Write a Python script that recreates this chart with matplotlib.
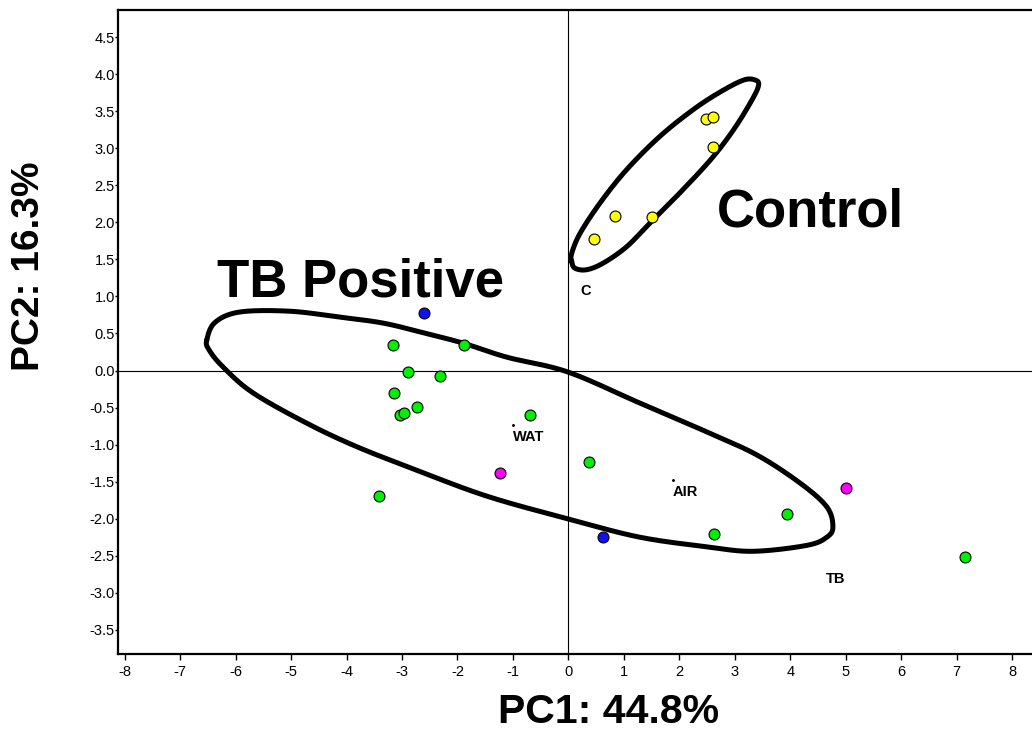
import numpy as np
import matplotlib
matplotlib.use("Agg")
import matplotlib.pyplot as plt

plt.rcParams['font.family'] = ['Liberation Sans', 'DejaVu Sans']
plt.rcParams['axes.unicode_minus'] = False

# ---- data (PC1, PC2) ----
yellow_x = [0.47, 0.85, 1.50, 2.48, 2.61, 2.60]
yellow_y = [1.77, 2.09, 2.07, 3.40, 3.42, 3.01]

green_x = [-3.16, -1.89, -2.90, -2.31, -3.14, -3.04, -2.97, -2.73, -0.70, -3.41, 0.37, 2.63, 3.94, 7.15]
green_y = [0.34, 0.35, -0.02, -0.07, -0.31, -0.60, -0.58, -0.49, -0.60, -1.70, -1.24, -2.20, -1.94, -2.52]

magenta_x = [-1.24, 5.00]
magenta_y = [-1.39, -1.58]

blue_x = [-2.61, 0.63]
blue_y = [0.77, -2.25]

# group labels (left, baseline)
group_labels = ["C", "WAT", "AIR", "TB"]
group_label_x = [0.21, -1.00, 1.88, 4.64]
group_label_y = [1.02, -0.95, -1.70, -2.87]
centroid_x = [-1.00, 1.88]
centroid_y = [-0.73, -1.48]

# hand-drawn enclosure outlines (data units)
tb_outline_x = [-6.52, -6.37, -5.92, -5.02, -4.12, -3.34, -2.62, -1.90, -1.11, -0.01, 1.29, 2.50,
                3.40, 4.18, 4.66, 4.77, 4.66, 4.30, 3.33, 2.50, 1.29, 0.08, -1.41, -2.62, -3.81,
                -4.72, -5.69, -6.23, -6.48]
tb_outline_y = [0.41, 0.65, 0.79, 0.80, 0.72, 0.64, 0.51, 0.37, 0.18, -0.02, -0.44, -0.83,
                -1.14, -1.52, -1.84, -2.11, -2.25, -2.36, -2.44, -2.38, -2.25, -2.02, -1.71, -1.38, -1.03,
                -0.71, -0.30, 0.05, 0.28]
ctrl_outline_x = [0.06, 0.12, 0.33, 0.63, 1.05, 1.47, 1.95, 2.56, 2.98, 3.31, 3.43, 3.37, 3.16,
                  2.74, 2.25, 1.65, 1.05, 0.57, 0.21, 0.06]
ctrl_outline_y = [1.47, 1.38, 1.36, 1.45, 1.67, 1.99, 2.35, 2.84, 3.25, 3.65, 3.85, 3.92, 3.92,
                  3.76, 3.52, 3.16, 2.71, 2.26, 1.85, 1.58]

group_titles = ["TB Positive", "Control"]
group_title_x = [-3.75, 4.37]
group_title_y = [1.005, 1.94]

x_ticks = list(range(-8, 9))
y_ticks = [-3.5, -3.0, -2.5, -2.0, -1.5, -1.0, -0.5, 0.0, 0.5, 1.0, 1.5, 2.0, 2.5, 3.0, 3.5, 4.0, 4.5]


def closed_spline(xs, ys, n=24):
    p = np.column_stack([xs, ys]).astype(float)
    m = len(p)
    out = []
    for i in range(m):
        p0, p1, p2, p3 = p[(i - 1) % m], p[i], p[(i + 1) % m], p[(i + 2) % m]
        t = np.linspace(0, 1, n, endpoint=False)[:, None]
        seg = 0.5 * ((2 * p1) + (-p0 + p2) * t + (2 * p0 - 5 * p1 + 4 * p2 - p3) * t ** 2
                     + (-p0 + 3 * p1 - 3 * p2 + p3) * t ** 3)
        out.append(seg)
    out = np.vstack(out)
    out = np.vstack([out, out[:1]])
    return out[:, 0], out[:, 1]


fig = plt.figure(figsize=(10.32, 7.33), dpi=100)
ax = fig.add_axes([118.3 / 1032, (733 - 654) / 733, 1 - 118.3 / 1032, (654 - 9.5) / 733])
ax.set_xlim(-8.115, 8.36)
ax.set_ylim(-3.826, 4.872)

ax.axhline(0, color='black', lw=0.8, zorder=1)
ax.axvline(0, color='black', lw=0.8, zorder=1)

for ox, oy in [(tb_outline_x, tb_outline_y), (ctrl_outline_x, ctrl_outline_y)]:
    sx, sy = closed_spline(ox, oy)
    ax.plot(sx, sy, color='black', lw=3.6, solid_capstyle='round', solid_joinstyle='round', zorder=2)

kw = dict(s=62, edgecolors='black', linewidths=0.8, zorder=3)
ax.scatter(yellow_x, yellow_y, c='#FFFF00', **kw)
ax.scatter(green_x, green_y, c='#00F000', **kw)
ax.scatter(magenta_x, magenta_y, c='#FF00FF', **kw)
ax.scatter(blue_x, blue_y, c='#1010F0', **kw)

ax.scatter(centroid_x, centroid_y, s=1.2, c='black', zorder=3)
for lab, lx, ly in zip(group_labels, group_label_x, group_label_y):
    ax.text(lx, ly, lab, fontsize=10.5, fontweight='bold', ha='left', va='baseline', zorder=4)

for lab, lx, ly in zip(group_titles, group_title_x, group_title_y):
    ax.text(lx, ly, lab, fontsize=38, fontweight='bold', ha='center', va='baseline', zorder=4)

ax.set_xticks(x_ticks)
ax.set_xticklabels([str(v) for v in x_ticks])
ax.set_yticks(y_ticks)
ax.set_yticklabels([f"{v:.1f}" for v in y_ticks])
ax.tick_params(axis='x', direction='out', length=4, width=1, pad=4, labelsize=10.5)
ax.tick_params(axis='y', direction='out', length=2.2, width=1, pad=0.3, labelsize=10.5)

ax.spines['right'].set_visible(False)
for s in ['left', 'bottom', 'top']:
    ax.spines[s].set_linewidth(1.6)

fig.text(609 / 1032, (733 - 723) / 733, "PC1: 44.8%", fontsize=29.5, fontweight='bold',
         ha='center', va='baseline')
fig.text(29 / 1032, (733 - 266) / 733, "PC2: 16.3%", fontsize=28, fontweight='bold',
         ha='center', va='center', rotation=90)

fig.savefig("out.png", dpi=100)
